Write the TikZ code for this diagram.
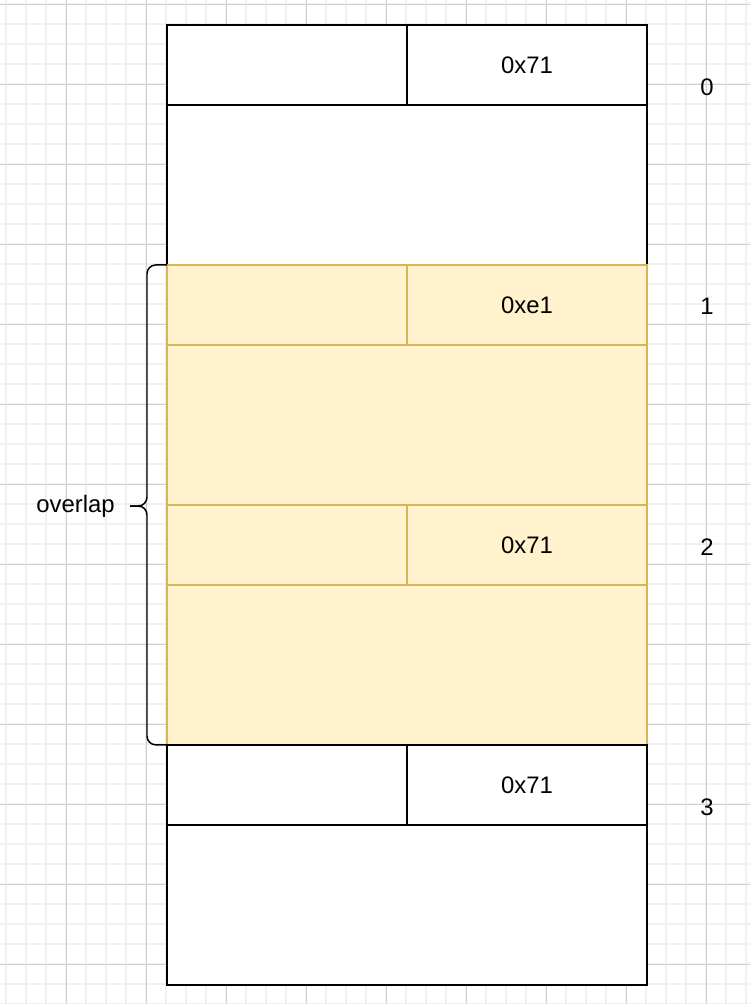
\documentclass[tikz,border=0pt]{standalone}
\usepackage{fontspec}
\setmainfont{Liberation Sans}
\usetikzlibrary{positioning}
\definecolor{chunkfill}{HTML}{FFF2CC}
\definecolor{chunkline}{HTML}{D6B656}
\definecolor{gridminor}{HTML}{F0F0F0}
\definecolor{gridmajor}{HTML}{D0D0D0}

\begin{document}
\begin{tikzpicture}[x=0.02cm,y=-0.02cm,node distance=0pt,font=\fontsize{13.6}{16}\selectfont]
  \tikzstyle{cell}=[draw=black,line width=0.85pt,fill=white,minimum width=4.8cm,minimum height=1.6cm,inner sep=0pt,outer sep=0pt]
  \tikzstyle{body}=[cell,minimum width=9.6cm,minimum height=3.2cm]
  \tikzstyle{overlapped}=[draw=chunkline,fill=chunkfill,line width=0.7pt]
  \tikzstyle{label}=[inner sep=0pt]
  \tikzstyle{brace}=[draw=black,line width=0.85pt,rounded corners=5pt]

  \useasboundingbox (0,0) rectangle (750,1004);
  % grid paper
  \foreach \x in {6,26,...,746} \draw[gridminor,line width=0.6pt] (\x,0) -- (\x,1004);
  \foreach \y in {4,24,...,1004} \draw[gridminor,line width=0.6pt] (0,\y) -- (750,\y);
  \foreach \x in {66,146,...,706} \draw[gridmajor,line width=0.5pt] (\x,0) -- (\x,1004);
  \foreach \y in {4,84,...,964} \draw[gridmajor,line width=0.5pt] (0,\y) -- (750,\y);

  % chunk 0
  \node[cell,anchor=north west] (h0a) at (167,25) {};
  \node[cell,right=of h0a] (h0b) {0x71};
  \node[body,below right=of h0a.south west] (b0) {};
  % chunks 1 and 2 (overlap)
  \node[cell,overlapped,below right=of b0.south west] (h1a) {};
  \node[cell,overlapped,right=of h1a] (h1b) {0xe1};
  \node[body,overlapped,below right=of h1a.south west] (b1) {};
  \node[cell,overlapped,below right=of b1.south west] (h2a) {};
  \node[cell,overlapped,right=of h2a] (h2b) {0x71};
  \node[body,overlapped,below right=of h2a.south west] (b2) {};
  % chunk 3
  \node[cell,below right=of b2.south west] (h3a) {};
  \node[cell,right=of h3a] (h3b) {0x71};
  \node[body,below right=of h3a.south west] (b3) {};

  \node[label] (n0) at (707,87) {0};
  \node[label] (n1) at (707,306) {1};
  \node[label] (n2) at (707,547) {2};
  \node[label] (n3) at (707,807) {3};

  \coordinate (tip) at (130,506);
  \draw[brace] (h1a.north west) -| (147,506) -- (tip);
  \draw[brace] (b2.south west) -| (147,506) -- (tip);
  \node[label,left=0.3cm of tip] (ov) {overlap};
\end{tikzpicture}
\end{document}
